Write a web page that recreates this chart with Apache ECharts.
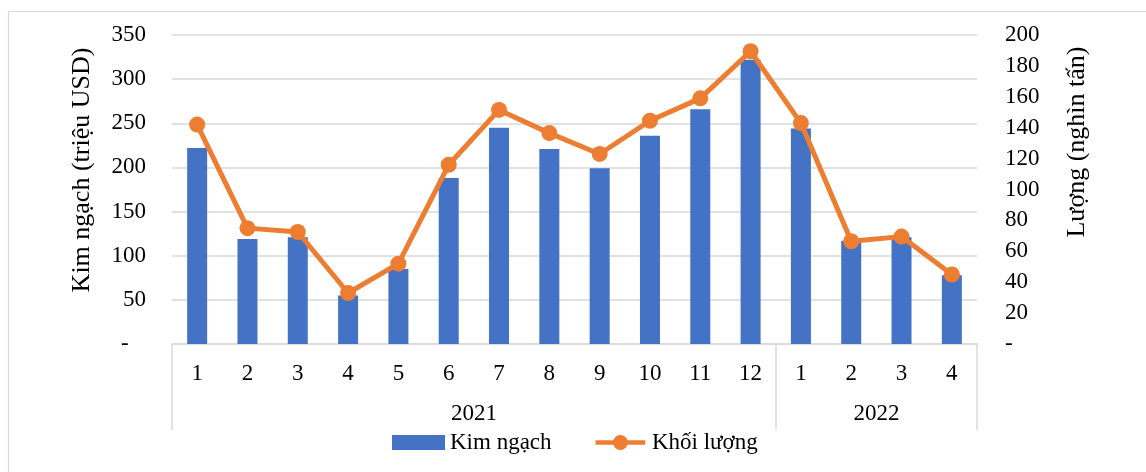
<!DOCTYPE html>
<html>
<head>
<meta charset="utf-8">
<script src="https://cdn.jsdelivr.net/npm/echarts@6/dist/echarts.min.js"></script>
<style>html,body{margin:0;padding:0;background:#fff;}#c{width:1146px;height:472px;}</style>
</head>
<body>
<div id="c"></div>
<script>
const monthLabels = ['1','2','3','4','5','6','7','8','9','10','11','12','1','2','3','4'];
const yearLabels = ['2021', '2022'];
const yearSpans = [12, 4];
const kimNgach = [222, 119, 121, 55, 85, 188, 245, 221, 199, 236, 266, 322, 244, 117, 121, 78];
const khoiLuong = [142, 75, 72.5, 33, 52, 116, 151.5, 136.5, 123, 144.5, 159, 189.5, 143, 66.5, 69.5, 45];
const seriesNames = ['Kim ngạch', 'Khối lượng'];
const axisTitles = ['Kim ngạch (triệu USD)', 'Lượng (nghìn tấn)'];

const FONT = 'Liberation Serif';
const GRID = '#d9d9d9';

// year group boundaries and centres derived from spans
const bounds = [0];
yearSpans.forEach(s => bounds.push(bounds[bounds.length - 1] + s));
const centres = yearSpans.map((s, i) => bounds[i] + s / 2);
const total = bounds[bounds.length - 1];

// legend icon for the line series: thick line with a circle marker
const lineIcon = 'path://M0,5 L53,5 L53,10 L0,10 Z M18.5,7.5 A8,8 0 1 1 34.5,7.5 A8,8 0 1 1 18.5,7.5 Z';

const chart = echarts.init(document.getElementById('c'), null, {renderer: 'canvas'});
chart.setOption({
  backgroundColor: '#fff',
  animation: false,
  textStyle: {fontFamily: FONT, color: '#000'},
  grid: {left: 172, right: 169, top: 35, bottom: 128, containLabel: false},
  legend: {
    data: [
      {name: seriesNames[0], icon: 'rect'},
      {name: seriesNames[1], icon: lineIcon}
    ],
    left: 387, top: 426,
    itemWidth: 53, itemHeight: 15, itemGap: 44,
    textStyle: {fontFamily: FONT, fontSize: 23, color: '#000'}
  },
  xAxis: [
    {
      type: 'category', data: monthLabels, position: 'bottom',
      axisLine: {show: true, lineStyle: {color: GRID, width: 1.5}},
      axisTick: {show: false},
      axisLabel: {fontFamily: FONT, fontSize: 23, color: '#000', margin: 18, interval: 0}
    },
    {
      type: 'value', min: 0, max: total, position: 'bottom',
      axisLine: {show: false},
      splitLine: {show: false},
      axisTick: {show: true, customValues: bounds, length: 86, lineStyle: {color: GRID, width: 1.5}},
      axisLabel: {
        customValues: centres, margin: 58, fontFamily: FONT, fontSize: 23, color: '#000',
        formatter: v => yearLabels[centres.indexOf(v)]
      }
    }
  ],
  yAxis: [
    {
      type: 'value', min: 0, max: 350, interval: 50, position: 'left',
      axisLine: {show: false}, axisTick: {show: false},
      splitLine: {show: true, lineStyle: {color: GRID, width: 1.5}},
      axisLabel: {fontFamily: FONT, fontSize: 23, color: '#000', margin: 26,
        formatter: v => v === 0 ? '-   ' : String(v)}
    },
    {
      type: 'value', min: 0, max: 200, interval: 20, position: 'right',
      axisLine: {show: false}, axisTick: {show: false},
      splitLine: {show: false},
      axisLabel: {fontFamily: FONT, fontSize: 23, color: '#000', margin: 28,
        formatter: v => v === 0 ? '-' : String(v)}
    }
  ],
  series: [
    {
      name: seriesNames[0], type: 'bar', xAxisIndex: 0, yAxisIndex: 0,
      data: kimNgach, barWidth: 20,
      itemStyle: {color: '#4472C4'}
    },
    {
      name: seriesNames[1], type: 'line', xAxisIndex: 0, yAxisIndex: 1,
      data: khoiLuong, symbol: 'circle', symbolSize: 16,
      lineStyle: {color: '#ED7D31', width: 5},
      itemStyle: {color: '#ED7D31'}, z: 5
    }
  ],
  graphic: [
    {type: 'rect', shape: {x: 8.5, y: 11.5, width: 1200, height: 500},
     style: {fill: 'none', stroke: GRID, lineWidth: 1.2}, silent: true, z: -10},
    {type: 'text', x: 82, y: 170, rotation: Math.PI / 2,
     style: {text: axisTitles[0], font: '26px "Liberation Serif"', fill: '#000', align: 'center', verticalAlign: 'middle'}},
    {type: 'text', x: 1077, y: 142, rotation: Math.PI / 2,
     style: {text: axisTitles[1], font: '26px "Liberation Serif"', fill: '#000', align: 'center', verticalAlign: 'middle'}}
  ]
});
</script>
</body>
</html>
